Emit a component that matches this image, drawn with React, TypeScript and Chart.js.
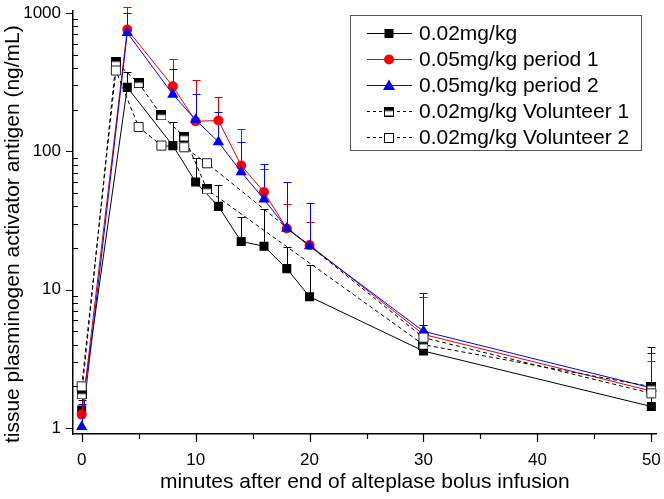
import React, { useEffect, useRef } from 'react';
import { Chart, registerables } from 'chart.js';

Chart.register(...registerables);

// ---------- data ----------
const meanTimes = [0, 4, 8, 10, 12, 14, 16, 18, 20, 30, 50];
const volunteerTimes = [0, 3, 5, 7, 9, 11, 30, 50];

const dose002 = [1.35, 290, 110, 60, 40, 22.3, 20.6, 14.2, 8.9, 3.6, 1.43];
const dose002Upper = [1.6, 372, 163, 90, 57, 33.4, 38, 20.3, 15.0, 5.6, 3.85];

const dose005p1 = [1.25, 760, 295, 165, 167, 79, 50.8, 27.7, 21, 4.75, 1.85];
const dose005p1Upper = [1.8, 1100, 468, 326, 247, 144, 74, 41.9, 30.7, 8.8, 3.05];

const dose005p2 = [1.02, 720, 258, 169, 117, 71, 45, 27.7, 20.7, 5.0, 1.95];
const dose005p2Upper = [1.5, 1000, 395, 260, 192, 117, 81.5, 59.7, 42.4, 9.5, 3.5];

const volunteer1 = [1.75, 441, 311, 182, 128, 53, 4.0, 1.99];
const volunteer2 = [2.0, 384, 150, 110, 107, 82, 4.5, 1.78];

const seriesLabels = [
  '0.02mg/kg',
  '0.05mg/kg period 1',
  '0.05mg/kg period 2',
  '0.02mg/kg Volunteer 1',
  '0.02mg/kg Volunteer 2',
];

const xMajorTicks = [0, 10, 20, 30, 40, 50];
const xMinorTicks = [5, 15, 25, 35, 45];
const yMajorTicks = [1, 10, 100, 1000];
const yMinorMultipliers = [2, 3, 4, 5, 6, 7, 8, 9];

const xTitle = 'minutes after end of alteplase bolus infusion';
const yTitle = 'tissue plasminogen activator antigen (ng/mL)';

const FONT = '"Liberation Sans", Arial, Helvetica, sans-serif';

function toPoints(xs: number[], ys: number[]) {
  return xs.map((x, i) => ({ x, y: ys[i] }));
}

function makeHalfSquare(): HTMLCanvasElement {
  const c = document.createElement('canvas');
  c.width = 10;
  c.height = 10;
  const g = c.getContext('2d')!;
  g.fillStyle = '#ffffff';
  g.fillRect(0.5, 0.5, 9, 9);
  g.fillStyle = '#000000';
  g.fillRect(0.5, 0.5, 9, 4);
  g.strokeStyle = '#000000';
  g.lineWidth = 1;
  g.strokeRect(0.5, 0.5, 9, 9);
  return c;
}

export default function App() {
  const ref = useRef<HTMLCanvasElement | null>(null);

  useEffect(() => {
    document.body.style.margin = '0';
    const canvas = ref.current;
    if (!canvas) return;
    const half = makeHalfSquare();

    const errorSets = [
      { xs: meanTimes, vals: dose002, up: dose002Upper, color: '#000000' },
      { xs: meanTimes, vals: dose005p1, up: dose005p1Upper, color: '#e00000' },
      { xs: meanTimes, vals: dose005p2, up: dose005p2Upper, color: '#0000ff' },
    ];

    const drawMarker = (ctx: CanvasRenderingContext2D, kind: number, x: number, y: number) => {
      ctx.save();
      ctx.setLineDash([]);
      if (kind === 0) {
        ctx.fillStyle = '#000';
        ctx.fillRect(x - 4.5, y - 4.5, 9, 9);
      } else if (kind === 1) {
        ctx.fillStyle = '#ff0000';
        ctx.beginPath();
        ctx.arc(x, y, 5, 0, Math.PI * 2);
        ctx.fill();
      } else if (kind === 2) {
        ctx.fillStyle = '#0000ff';
        ctx.beginPath();
        ctx.moveTo(x, y - 6);
        ctx.lineTo(x + 6, y + 4.5);
        ctx.lineTo(x - 6, y + 4.5);
        ctx.closePath();
        ctx.fill();
      } else if (kind === 3) {
        ctx.drawImage(half, x - 5, y - 5, 10, 10);
      } else {
        ctx.fillStyle = '#fff';
        ctx.strokeStyle = '#000';
        ctx.lineWidth = 1;
        ctx.fillRect(x - 4.5, y - 4.5, 9, 9);
        ctx.strokeRect(Math.round(x) - 4.5, Math.round(y) - 4.5, 9, 9);
      }
      ctx.restore();
    };

    const decor = {
      id: 'decor',
      beforeDatasetsDraw(chart: any) {
        const ctx: CanvasRenderingContext2D = chart.ctx;
        const xs = chart.scales.x;
        const ys = chart.scales.y;
        ctx.save();
        ctx.lineWidth = 1;
        errorSets.forEach((s) => {
          ctx.strokeStyle = s.color;
          s.xs.forEach((t, i) => {
            const px = Math.round(xs.getPixelForValue(t)) + 0.5;
            const y0 = ys.getPixelForValue(s.vals[i]);
            const y1 = Math.round(ys.getPixelForValue(s.up[i])) + 0.5;
            ctx.beginPath();
            ctx.moveTo(px, y0);
            ctx.lineTo(px, y1);
            ctx.moveTo(px - 4, y1);
            ctx.lineTo(px + 4, y1);
            ctx.stroke();
          });
        });
        ctx.restore();
      },
      afterDraw(chart: any) {
        const ctx: CanvasRenderingContext2D = chart.ctx;
        const xs = chart.scales.x;
        const ys = chart.scales.y;
        const area = chart.chartArea;
        ctx.save();
        ctx.strokeStyle = '#000';
        ctx.lineWidth = 1.2;
        ctx.beginPath();
        xMajorTicks.forEach((v) => {
          const px = Math.round(xs.getPixelForValue(v)) + 0.5;
          ctx.moveTo(px, area.bottom);
          ctx.lineTo(px, area.bottom + 8);
        });
        xMinorTicks.forEach((v) => {
          const px = Math.round(xs.getPixelForValue(v)) + 0.5;
          ctx.moveTo(px, area.bottom);
          ctx.lineTo(px, area.bottom + 5);
        });
        yMajorTicks.forEach((v) => {
          const py = Math.round(ys.getPixelForValue(v)) + 0.5;
          ctx.moveTo(area.left - 7, py);
          ctx.lineTo(area.left, py);
        });
        yMajorTicks.slice(0, 3).forEach((d) => {
          yMinorMultipliers.forEach((m) => {
            const py = Math.round(ys.getPixelForValue(d * m)) + 0.5;
            ctx.moveTo(area.left, py);
            ctx.lineTo(area.left + 5, py);
          });
        });
        ctx.stroke();

        // legend
        const bx = 350.5, by = 15.5, bw = 291, bh = 135;
        ctx.fillStyle = '#fff';
        ctx.fillRect(bx, by, bw, bh);
        ctx.strokeStyle = '#555';
        ctx.lineWidth = 1;
        ctx.strokeRect(bx, by, bw, bh);
        const lineColors = ['#000', '#e00000', '#0000ff', '#000', '#000'];
        seriesLabels.forEach((label, i) => {
          const y = 33 + i * 26;
          ctx.save();
          ctx.strokeStyle = lineColors[i];
          ctx.lineWidth = 1;
          if (i >= 3) ctx.setLineDash([3, 3]);
          ctx.beginPath();
          ctx.moveTo(367, Math.round(y) + 0.5);
          ctx.lineTo(412, Math.round(y) + 0.5);
          ctx.stroke();
          ctx.restore();
          drawMarker(ctx, i, 389, Math.round(y) + 0.5);
          ctx.fillStyle = '#000';
          ctx.font = `21px ${FONT}`;
          ctx.textBaseline = 'middle';
          ctx.textAlign = 'left';
          ctx.fillText(label, 419, y + 1);
        });
        ctx.restore();
      },
    };

    const chart = new Chart(canvas, {
      type: 'line',
      data: {
        datasets: [
          {
            label: seriesLabels[0],
            data: toPoints(meanTimes, dose002),
            borderColor: '#000000',
            borderWidth: 1,
            pointStyle: 'rect',
            pointRadius: 6.4,
            pointBackgroundColor: '#000000',
            pointBorderColor: '#000000',
            pointBorderWidth: 0,
            order: 4,
          },
          {
            label: seriesLabels[1],
            data: toPoints(meanTimes, dose005p1),
            borderColor: '#e00000',
            borderWidth: 1,
            pointStyle: 'circle',
            pointRadius: 5,
            pointBackgroundColor: '#ff0000',
            pointBorderColor: '#ff0000',
            pointBorderWidth: 0,
            order: 3,
          },
          {
            label: seriesLabels[2],
            data: toPoints(meanTimes, dose005p2),
            borderColor: '#0000ff',
            borderWidth: 1,
            pointStyle: 'triangle',
            pointRadius: 6.5,
            pointBackgroundColor: '#0000ff',
            pointBorderColor: '#0000ff',
            pointBorderWidth: 0,
            order: 2,
          },
          {
            label: seriesLabels[3],
            data: toPoints(volunteerTimes, volunteer1),
            borderColor: '#000000',
            borderWidth: 1,
            borderDash: [4, 3],
            pointStyle: half as any,
            pointRadius: 5,
            order: 1,
          },
          {
            label: seriesLabels[4],
            data: toPoints(volunteerTimes, volunteer2),
            borderColor: '#000000',
            borderWidth: 1,
            borderDash: [4, 3],
            pointStyle: 'rect',
            pointRadius: 6.4,
            pointBackgroundColor: '#ffffff',
            pointBorderColor: '#222222',
            pointBorderWidth: 1,
            order: 0,
          },
        ],
      },
      options: {
        animation: false,
        responsive: false,
        maintainAspectRatio: false,
        layout: { padding: { top: 11, right: 7, left: 0, bottom: 0 } },
        plugins: { legend: { display: false }, tooltip: { enabled: false } },
        elements: { line: { tension: 0 } },
        scales: {
          x: {
            type: 'linear',
            min: -0.763,
            max: 50.46,
            grid: { display: false, drawTicks: false },
            border: { display: true, color: '#000', width: 1.5 },
            afterBuildTicks: (scale: any) => {
              scale.ticks = xMajorTicks.map((v) => ({ value: v }));
            },
            afterFit: (scale: any) => {
              scale.height = 65;
              scale.paddingLeft = 0;
              scale.paddingRight = 0;
            },
            ticks: {
              color: '#000',
              font: { family: FONT, size: 17 },
              padding: 16,
              maxRotation: 0,
              autoSkip: false,
              callback: (v: any) => String(v),
            },
            title: {
              display: true,
              text: xTitle,
              color: '#000',
              font: { family: FONT, size: 21 },
              padding: { top: 0, bottom: 4 },
            },
          },
          y: {
            type: 'logarithmic',
            min: 0.905,
            max: 1034,
            grid: { display: false, drawTicks: false },
            border: { display: true, color: '#000', width: 1.5 },
            afterBuildTicks: (scale: any) => {
              scale.ticks = yMajorTicks.map((v) => ({ value: v }));
            },
            afterFit: (scale: any) => {
              scale.width = 73;
              scale.paddingTop = 0;
              scale.paddingBottom = 0;
            },
            ticks: {
              color: '#000',
              font: { family: FONT, size: 17 },
              padding: 12,
              autoSkip: false,
              callback: (v: any) => String(v),
            },
            title: {
              display: true,
              text: yTitle + '\u00a0\u00a0\u00a0\u00a0',
              color: '#000',
              font: { family: FONT, size: 21 },
              padding: { top: 1, bottom: 0 },
            },
          },
        },
      },
      plugins: [decor],
    } as any);

    return () => {
      chart.destroy();
    };
  }, []);

  return (
    <div style={{ width: 664, height: 499 }}>
      <canvas ref={ref} width={664} height={499} style={{ display: 'block' }} />
    </div>
  );
}
